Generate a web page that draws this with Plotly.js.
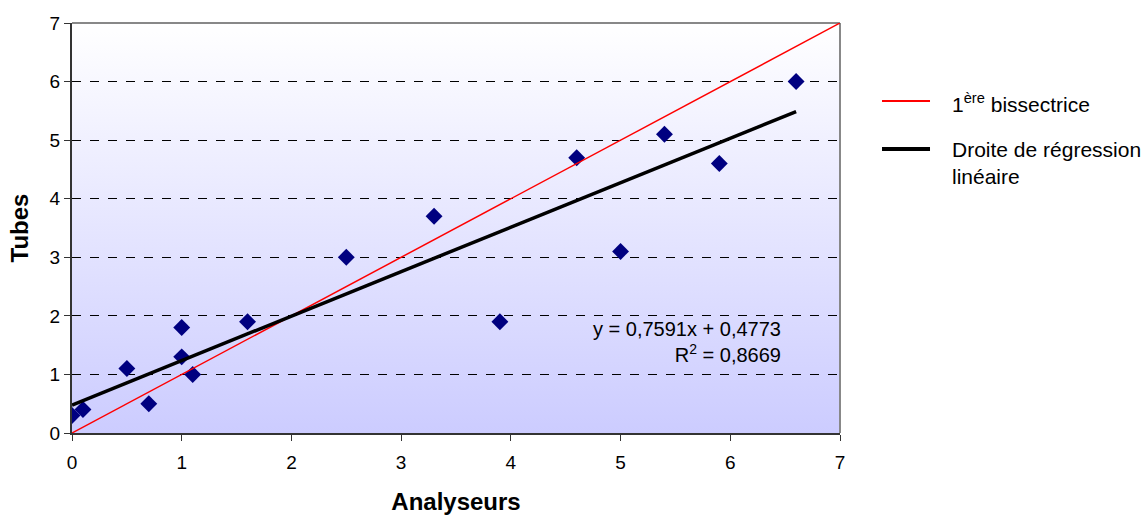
<!DOCTYPE html>
<html>
<head>
<meta charset="utf-8">
<script src="https://cdn.plot.ly/plotly-3.0.1.min.js"></script>
<style>
  html, body { margin: 0; padding: 0; background: #ffffff; }
  #chart { width: 1145px; height: 515px; }
</style>
</head>
<body>
<div id="chart"></div>
<script>
// Paired measurements: analysers (x) versus tubes (y)
const analyseurs = [0, 0.1, 0.5, 0.7, 1.0, 1.0, 1.1, 1.6, 2.5, 3.3, 3.9, 4.6, 5.0, 5.4, 5.9, 6.6];
const tubes      = [0.3, 0.4, 1.1, 0.5, 1.8, 1.3, 1.0, 1.9, 3.0, 3.7, 1.9, 4.7, 3.1, 5.1, 4.6, 6.0];

// Linear fit parameters as printed on the chart
const pente = 0.7591;
const ordonnee = 0.4773;
const r2 = 0.8669;

// Axis extent and tick labels
const axisMax = 7;
const tickVals = [0, 1, 2, 3, 4, 5, 6, 7];

// Legend entries
const legendNames = ['1<sup>ère</sup> bissectrice', 'Droite de régression<br>linéaire'];
const legendColors = ['#ff0000', '#000000'];
const legendWidths = [1.5, 3.5];

const fmt = (v) => v.toFixed(4).replace('.', ',');

const xMin = Math.min(...analyseurs);
const xMax = Math.max(...analyseurs);
const regX = [xMin, xMax];
const regY = regX.map(x => pente * x + ordonnee);

const font = 'Liberation Sans, Arial, sans-serif';

const traces = [
  {
    x: analyseurs, y: tubes,
    type: 'scatter', mode: 'markers',
    marker: { symbol: 'diamond', size: 13, color: '#000080' },
    showlegend: false, hoverinfo: 'x+y'
  },
  {
    x: [0, axisMax], y: [0, axisMax],
    type: 'scatter', mode: 'lines',
    line: { color: legendColors[0], width: legendWidths[0] },
    name: legendNames[0], showlegend: false
  },
  {
    x: regX, y: regY,
    type: 'scatter', mode: 'lines',
    line: { color: legendColors[1], width: legendWidths[1] },
    name: legendNames[1], showlegend: false
  }
];

// Vertical white-to-lavender wash behind the plotting area
const gradSvg = '<svg xmlns="http://www.w3.org/2000/svg" width="10" height="100" preserveAspectRatio="none">' +
  '<defs><linearGradient id="g" x1="0" y1="0" x2="0" y2="1">' +
  '<stop offset="0" stop-color="#ffffff"/><stop offset="1" stop-color="#ccccff"/>' +
  '</linearGradient></defs><rect width="10" height="100" fill="url(#g)"/></svg>';
const gradUri = 'data:image/svg+xml;base64,' + btoa(gradSvg);

// Legend laid out beside the plot, in paper units
const legSymX0 = 1.0547, legSymX1 = 1.1172, legTextX = 1.143;
const legRowY = [0.8098, 0.6927];

const legendShapes = legendNames.map((_, i) => ({
  type: 'line', xref: 'paper', yref: 'paper',
  x0: legSymX0, x1: legSymX1, y0: legRowY[i], y1: legRowY[i],
  line: { color: legendColors[i], width: legendWidths[i] + 0.5 }
}));
const legendLabels = legendNames.map((name, i) => ({
  xref: 'paper', yref: 'paper', x: legTextX, y: legRowY[i] + 0.032,
  xanchor: 'left', yanchor: 'top', align: 'left',
  text: name, showarrow: false,
  font: { family: font, size: 21, color: '#000000' }
}));

const layout = {
  width: 1145, height: 515,
  margin: { l: 72, r: 305, t: 23, b: 82 },
  paper_bgcolor: '#ffffff',
  plot_bgcolor: 'rgba(0,0,0,0)',
  font: { family: font, size: 19, color: '#000000' },
  showlegend: false,
  xaxis: {
    range: [0, axisMax], tickvals: tickVals, ticktext: tickVals.map(String),
    showgrid: false, zeroline: false,
    showline: true, linecolor: '#333333', linewidth: 2,
    ticks: 'outside', ticklen: 6, tickcolor: '#333333', tickwidth: 1,
    ticklabelstandoff: 5,
    tickfont: { family: font, size: 19 },
    title: { text: '<b>Analyseurs</b>', font: { family: font, size: 24 }, standoff: 24 },
    automargin: false, fixedrange: true
  },
  yaxis: {
    range: [0, axisMax], tickvals: tickVals, ticktext: tickVals.map(String),
    showgrid: true, gridcolor: '#000000', gridwidth: 1, griddash: 'dash',
    zeroline: false,
    showline: true, linecolor: '#333333', linewidth: 2,
    ticks: 'outside', ticklen: 6, tickcolor: '#333333', tickwidth: 1,
    tickfont: { family: font, size: 19 },
    title: { text: '<b>Tubes</b>', font: { family: font, size: 24 }, standoff: 14 },
    automargin: false, fixedrange: true
  },
  images: [{
    source: gradUri, xref: 'paper', yref: 'paper',
    x: 0, y: 1, sizex: 1, sizey: 1, sizing: 'stretch',
    xanchor: 'left', yanchor: 'top', layer: 'below'
  }],
  shapes: [
    // top and right frame in grey
    { type: 'line', xref: 'paper', yref: 'paper', x0: 0, x1: 1, y0: 1, y1: 1,
      line: { color: '#888888', width: 2 }, layer: 'below' },
    { type: 'line', xref: 'paper', yref: 'paper', x0: 1, x1: 1, y0: 0, y1: 1,
      line: { color: '#888888', width: 2 }, layer: 'below' }
  ].concat(legendShapes),
  annotations: [{
    xref: 'x', yref: 'y', x: 6.48, y: 1.55, xanchor: 'right',
    text: 'y = ' + fmt(pente) + 'x + ' + fmt(ordonnee) + '<br>R<sup>2</sup> = ' + fmt(r2),
    showarrow: false, align: 'right',
    font: { family: font, size: 20, color: '#000000' }
  }].concat(legendLabels)
};

Plotly.newPlot('chart', traces, layout, { displayModeBar: false, staticPlot: true });
</script>
</body>
</html>
